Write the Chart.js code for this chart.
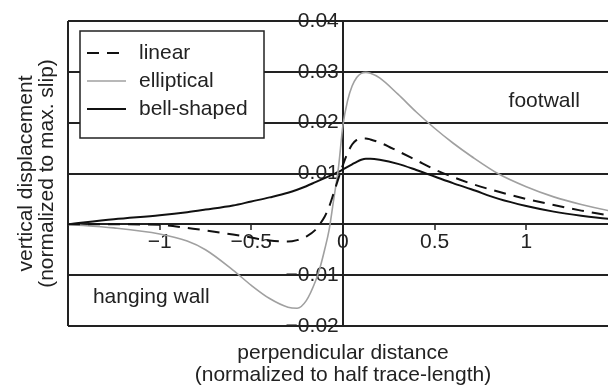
<!DOCTYPE html>
<html>
<head>
<meta charset="utf-8">
<title>Vertical displacement across the fault trace</title>
<script src="https://cdn.jsdelivr.net/npm/chart.js@4.4.1/dist/chart.umd.min.js"></script>
<style>
  html, body { margin: 0; padding: 0; background: #ffffff; }
  #wrap { position: relative; width: 608px; height: 386px; }
</style>
</head>
<body>
<div id="wrap"><canvas id="chart"></canvas></div>
<script>
// Perpendicular distance from the trace (normalized to half trace-length)
const distance = [
  -1.5, -1.25, -1.0, -0.85, -0.75, -0.6, -0.5, -0.4, -0.3, -0.25, -0.2, -0.15,
  -0.125, -0.1, -0.075, -0.05, -0.025, 0, 0.025, 0.05, 0.075, 0.1, 0.125, 0.15,
  0.2, 0.3, 0.4, 0.5, 0.6, 0.7, 0.85, 1.0, 1.15, 1.3, 1.45, 1.5
];

// Vertical displacement (normalized to max. slip) for each slip profile
const linearSlip = [
  0, 0, -0.0001, -0.0007, -0.0012, -0.0020, -0.0026, -0.0032, -0.0034, -0.0031, -0.0024, -0.0011,
  0.0001, 0.0015, 0.0035, 0.0062, 0.0090, 0.0117, 0.0140, 0.0157, 0.0166, 0.0169, 0.0169, 0.0167,
  0.0161, 0.0144, 0.0126, 0.0108, 0.0093, 0.0080, 0.0064, 0.0050, 0.0038, 0.0027, 0.0018, 0.0016
];
const ellipticalSlip = [
  0, -0.0007, -0.0019, -0.0033, -0.0050, -0.0090, -0.0120, -0.0146, -0.0163, -0.0165, -0.0150, -0.0112,
  -0.0085, -0.0050, -0.0010, 0.0050, 0.0110, 0.0195, 0.0243, 0.0272, 0.0289, 0.0297, 0.0299, 0.0297,
  0.0288, 0.0256, 0.0221, 0.0189, 0.0160, 0.0134, 0.0099, 0.0074, 0.0054, 0.0039, 0.0027, 0.0024
];
const bellSlip = [
  0, 0.0010, 0.0018, 0.0024, 0.0029, 0.0037, 0.0045, 0.0053, 0.0062, 0.0068, 0.0075, 0.0083,
  0.0087, 0.0091, 0.0095, 0.0099, 0.0103, 0.0108, 0.0113, 0.0118, 0.0123, 0.0127, 0.0129, 0.0129,
  0.0127, 0.0119, 0.0107, 0.0094, 0.0081, 0.0069, 0.0050, 0.0036, 0.0025, 0.0017, 0.0011, 0.0010
];

const seriesNames = ['linear', 'elliptical', 'bell-shaped'];

// Axis ticks
const xTickValues = [-1.5, -1, -0.5, 0, 0.5, 1];
const xTickLabels = ['', '\u22121', '\u22120.5', '0', '0.5', '1'];
const yTickValues = [-0.02, -0.01, 0, 0.01, 0.02, 0.03, 0.04];
const yTickLabels = ['\u22120.02', '\u22120.01', '', '0.01', '0.02', '0.03', '0.04'];

const xTitle = ['perpendicular distance', '(normalized to half trace-length)'];
const yTitle = ['vertical displacement', '(normalized to max. slip)'];

// Region names placed in data coordinates
const regionNames = [
  { text: 'footwall', x: 1.098, y: 0.0230, align: 'center' },
  { text: 'hanging wall', x: -1.364, y: -0.0154, align: 'left' }
];

const ink = '#222222';
const grey = '#a0a0a0';
const FONT = '"Liberation Sans", Arial, Helvetica, sans-serif';
const fontSize = 21;

const toPoints = arr => distance.map((x, i) => ({ x: x, y: arr[i] }));

const figureText = {
  id: 'figureText',
  afterDraw(chart) {
    const ctx = chart.ctx;
    const area = chart.chartArea;
    const xs = chart.scales.x, ys = chart.scales.y;
    ctx.save();
    ctx.fillStyle = ink;
    ctx.font = fontSize + 'px ' + FONT;

    // region names
    ctx.textBaseline = 'alphabetic';
    regionNames.forEach(r => {
      ctx.textAlign = r.align;
      ctx.fillText(r.text, xs.getPixelForValue(r.x), ys.getPixelForValue(r.y));
    });

    // x axis title, centred under the plot frame
    ctx.textAlign = 'center';
    const xMid = (xs.getPixelForValue(-1.5) + xs.getPixelForValue(1.5)) / 2;
    ctx.fillText(xTitle[0], xMid, area.bottom + 33);
    ctx.fillText(xTitle[1], xMid, area.bottom + 55);

    // y axis title, rotated
    const yMid = (area.top + area.bottom) / 2;
    ctx.save();
    ctx.translate(32, yMid);
    ctx.rotate(-Math.PI / 2);
    ctx.fillText(yTitle[0], 0, 0);
    ctx.fillText(yTitle[1], 0, 21);
    ctx.restore();

    // legend box
    const bx = area.left + 12, by = area.top + 10, bw = 184, bh = 107;
    ctx.fillStyle = '#ffffff';
    ctx.fillRect(bx, by, bw, bh);
    ctx.lineWidth = 1.5;
    ctx.strokeStyle = ink;
    ctx.strokeRect(bx, by, bw, bh);

    ctx.textAlign = 'left';
    ctx.textBaseline = 'middle';
    chart.data.datasets.forEach((ds, i) => {
      const yRow = by + 22 + i * 28;
      ctx.save();
      ctx.strokeStyle = ds.borderColor;
      ctx.lineWidth = ds.borderWidth;
      ctx.setLineDash(ds.borderDash || []);
      ctx.beginPath();
      ctx.moveTo(bx + 7, yRow);
      ctx.lineTo(bx + 46, yRow);
      ctx.stroke();
      ctx.restore();
      ctx.fillStyle = ink;
      ctx.fillText(ds.label, bx + 59, yRow);
    });
    ctx.restore();
  }
};

new Chart(document.getElementById('chart'), {
  type: 'line',
  data: {
    datasets: [
      {
        label: seriesNames[0],
        data: toPoints(linearSlip),
        borderColor: '#111111',
        borderWidth: 2,
        borderDash: [12, 8],
        pointRadius: 0,
        cubicInterpolationMode: 'monotone',
        fill: false
      },
      {
        label: seriesNames[1],
        data: toPoints(ellipticalSlip),
        borderColor: grey,
        borderWidth: 1.6,
        pointRadius: 0,
        cubicInterpolationMode: 'monotone',
        fill: false
      },
      {
        label: seriesNames[2],
        data: toPoints(bellSlip),
        borderColor: '#111111',
        borderWidth: 2,
        pointRadius: 0,
        cubicInterpolationMode: 'monotone',
        fill: false
      }
    ]
  },
  options: {
    responsive: true,
    maintainAspectRatio: false,
    animation: false,
    events: [],
    layout: { padding: { left: 68, top: 21, right: 0, bottom: 60 } },
    plugins: {
      legend: { display: false },
      title: { display: false },
      tooltip: { enabled: false }
    },
    scales: {
      x: {
        type: 'linear',
        min: -1.5,
        max: 1.446,
        position: { y: 0 },
        afterBuildTicks: s => { s.ticks = xTickValues.map(v => ({ value: v })); },
        grid: {
          color: c => (c.tick && c.tick.value === xTickValues[0]) ? ink : 'rgba(0,0,0,0)',
          lineWidth: 2,
          tickLength: 5,
          tickColor: ink,
          tickWidth: 1.5
        },
        border: { display: true, color: ink, width: 2 },
        ticks: {
          autoSkip: false,
          maxRotation: 0,
          padding: 0,
          color: ink,
          font: { family: FONT, size: fontSize },
          callback: (v, i) => xTickLabels[i]
        }
      },
      y: {
        type: 'linear',
        min: -0.02,
        max: 0.04,
        position: { x: 0 },
        afterBuildTicks: s => { s.ticks = yTickValues.map(v => ({ value: v })); },
        grid: {
          color: ink,
          lineWidth: 2,
          drawTicks: false
        },
        border: { display: true, color: ink, width: 2 },
        ticks: {
          autoSkip: false,
          padding: 7,
          color: ink,
          font: { family: FONT, size: fontSize },
          // a thin space keeps the labels clear of the vertical axis line
          callback: (v, i) => yTickLabels[i] ? yTickLabels[i] + '\u2009' : ''
        }
      }
    }
  },
  plugins: [figureText]
});
</script>
</body>
</html>
